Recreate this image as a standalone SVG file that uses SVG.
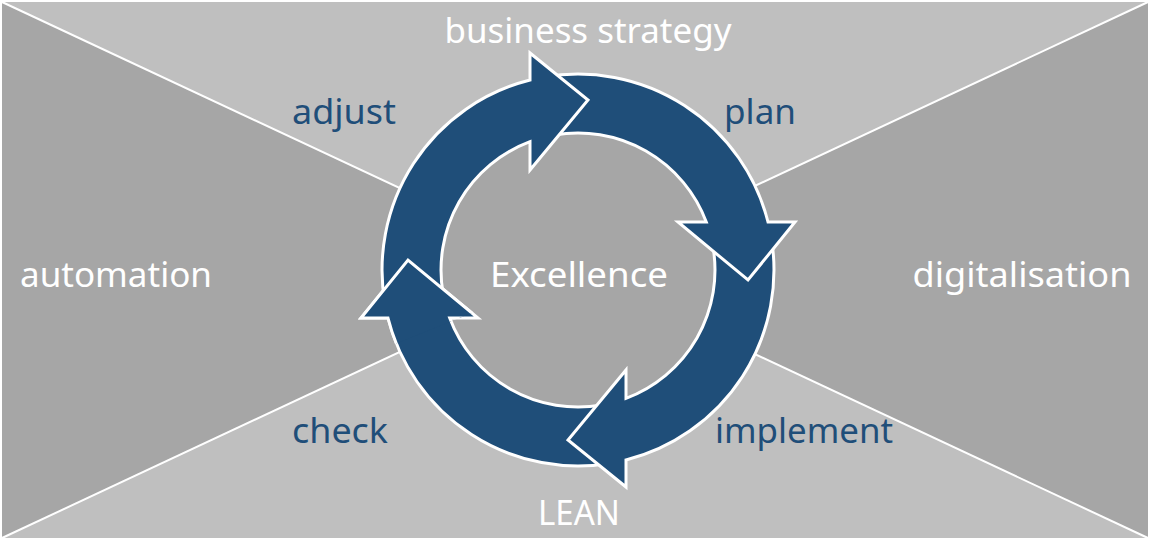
<svg xmlns="http://www.w3.org/2000/svg" width="1150" height="540" viewBox="0 0 1150 540">
<style>
.lt{fill:#bfbfbf}.dk{fill:#a6a6a6}
.arr{fill:#1f4e79;stroke:#fff;stroke-width:3;stroke-linejoin:miter}
text{font-family:"Noto Sans","DejaVu Sans",sans-serif;font-size:35px}
.w{fill:#fff}.b{fill:#1f4e79}
</style>
<defs>
<path id="arrow" d="M385,304 A196,196 0 0 1 530,80 L530,53 L588,100 L530,170 L530,141.7 A137,137 0 0 0 443.1,293.8 Z"/>
<clipPath id="leftHead"><polygon points="578,270 337,367.4 318,270 322,224.9"/></clipPath>
</defs>
<rect x="0" y="0" width="1150" height="540" fill="#fff"/>
<g id="background">
<polygon class="lt" points="2,2 1148,2 575,270"/>
<polygon class="lt" points="2,538 1148,538 575,270"/>
<polygon class="dk" points="2,2 2,538 575,270"/>
<polygon class="dk" points="1148,2 1148,538 575,270"/>
<line x1="2" y1="2" x2="1148" y2="538" stroke="#fff" stroke-width="2"/>
<line x1="1148" y1="2" x2="2" y2="538" stroke="#fff" stroke-width="2"/>
<circle cx="578" cy="270" r="150" fill="#a6a6a6"/>
</g>
<g id="connectors">
<use href="#arrow" class="arr" transform="rotate(270 578 270)"/>
<use href="#arrow" class="arr" transform="rotate(180 578 270)"/>
<use href="#arrow" class="arr" transform="rotate(90 578 270)"/>
<use href="#arrow" class="arr"/>
<g clip-path="url(#leftHead)"><use href="#arrow" class="arr" transform="rotate(270 578 270)"/></g>
</g>
<g id="business-strategy"><text class="w" x="588" y="43" text-anchor="middle" textLength="287" lengthAdjust="spacingAndGlyphs">business strategy</text></g>
<g id="adjust"><text class="b" x="344" y="124" text-anchor="middle" textLength="104" lengthAdjust="spacingAndGlyphs">adjust</text></g>
<g id="plan"><text class="b" x="760" y="124" text-anchor="middle" textLength="72" lengthAdjust="spacingAndGlyphs">plan</text></g>
<g id="automation"><text class="w" x="116" y="287" text-anchor="middle" textLength="192" lengthAdjust="spacingAndGlyphs">automation</text></g>
<g id="excellence"><text class="w" x="579" y="287" text-anchor="middle" textLength="178" lengthAdjust="spacingAndGlyphs">Excellence</text></g>
<g id="digitalisation"><text class="w" x="1022" y="287" text-anchor="middle" textLength="219" lengthAdjust="spacingAndGlyphs">digitalisation</text></g>
<g id="check"><text class="b" x="340" y="443" text-anchor="middle" textLength="96" lengthAdjust="spacingAndGlyphs">check</text></g>
<g id="implement"><text class="b" x="804" y="443" text-anchor="middle" textLength="178" lengthAdjust="spacingAndGlyphs">implement</text></g>
<g id="lean"><text class="w" x="579" y="525" text-anchor="middle" textLength="82" lengthAdjust="spacingAndGlyphs">LEAN</text></g>
</svg>
